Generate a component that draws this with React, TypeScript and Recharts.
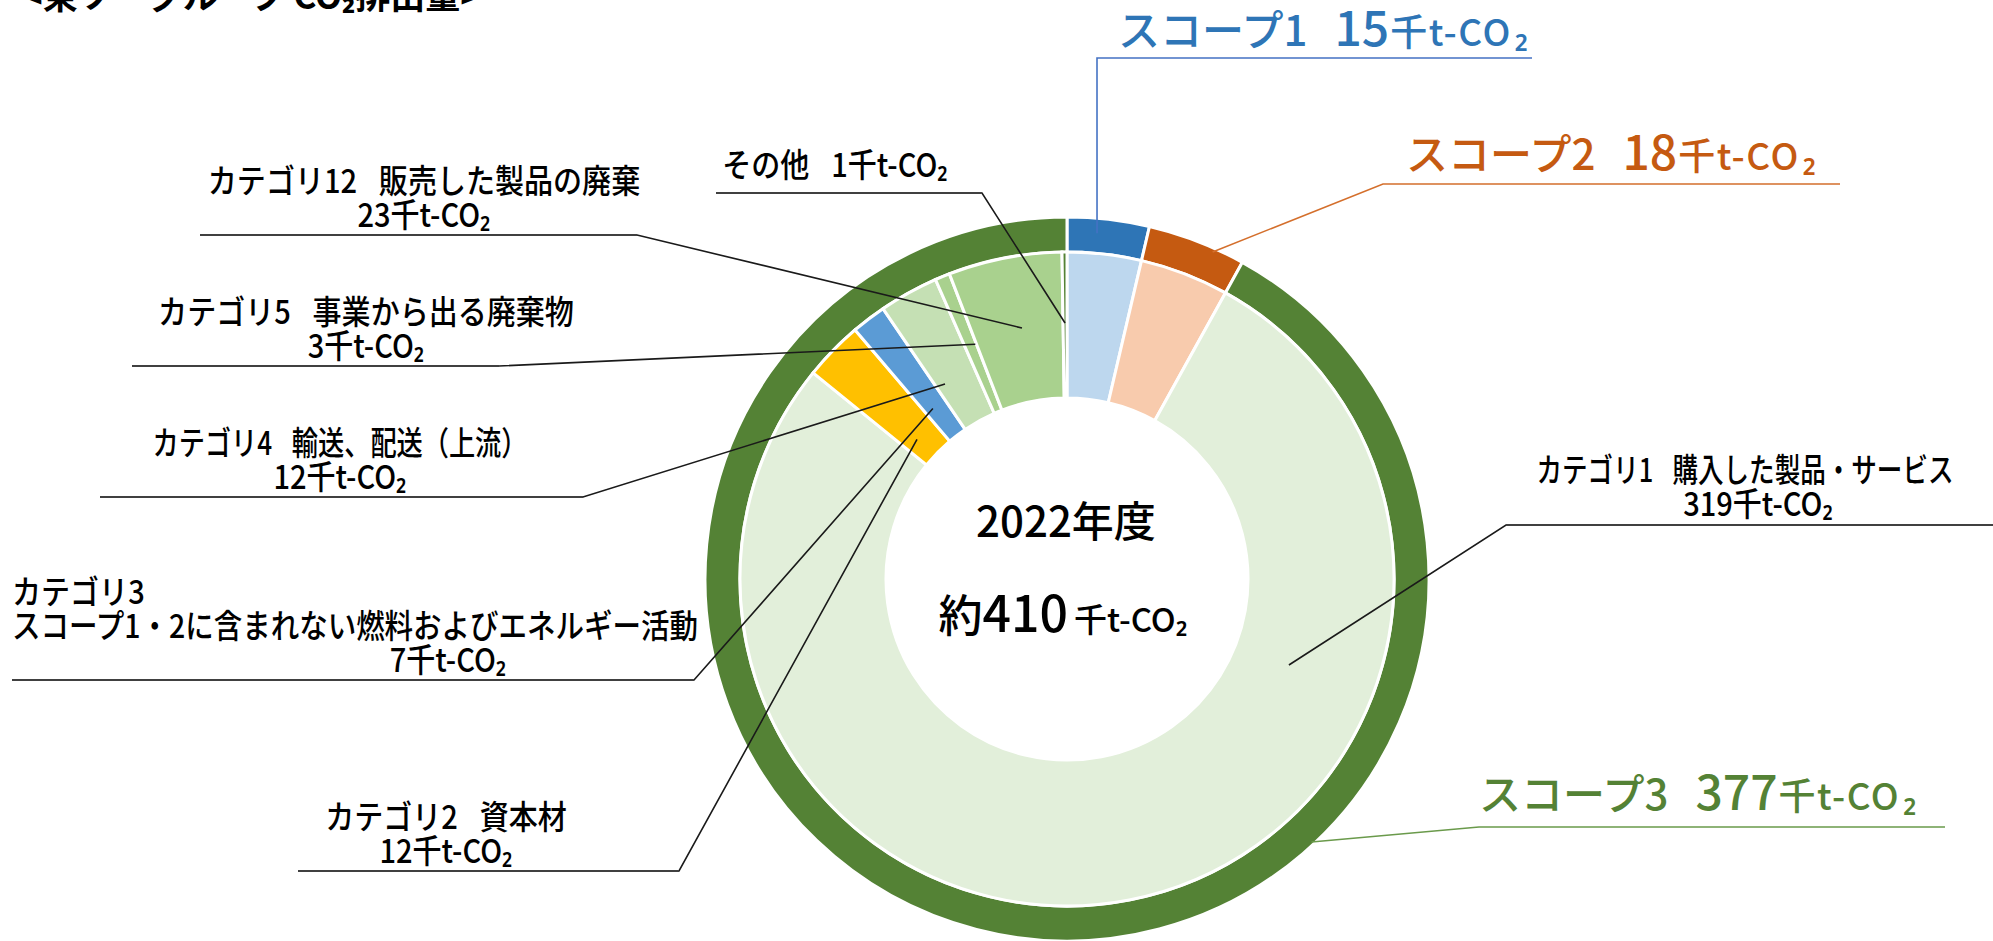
import React from 'react';
import { PieChart, Pie, Cell } from 'recharts';

const FONT = '"Noto Sans CJK JP", "Noto Sans", sans-serif';
const RADIAN = Math.PI / 180;
const SQUEEZE = 0.88;

// Outer ring: scope totals
const scopeNames = ['スコープ1', 'スコープ2', 'スコープ3'];
const scopeValues = [15, 18, 377];
const scopeColors = ['#2E75B6', '#C55A11', '#548235'];
const scopeLineColors = ['#4472C4', '#D46F2C', '#6A9A4B'];

// Inner ring: breakdown
const detailNames = ['スコープ1', 'スコープ2', 'カテゴリ1', 'カテゴリ2', 'カテゴリ3', 'カテゴリ4', 'カテゴリ5', 'カテゴリ12', 'その他'];
const detailTitles = [
  '',
  '',
  '購入した製品・サービス',
  '資本材',
  'スコープ1・2に含まれない燃料およびエネルギー活動',
  '輸送、配送（上流）',
  '事業から出る廃棄物',
  '販売した製品の廃棄',
  '',
];
const detailValues = [15, 18, 319, 12, 7, 12, 3, 23, 1];
const detailColors = ['#BDD7EE', '#F8CBAD', '#E2EFDA', '#FFC000', '#5B9BD5', '#C5E0B4', '#A9D18E', '#A9D18E', '#548235'];

const titleText = '<東ソーグループ CO₂排出量>';
const yearLabel = '2022年度';
const totalPrefix = '約';
const totalValue = 410;
const unitText = '千t-CO';
const unitSub = '₂';
const GAP = '\u2002\u2005';

const scopeData = scopeNames.map((name, i) => ({ name, value: scopeValues[i] }));
const detailData = detailNames.map((name, i) => ({ name, title: detailTitles[i], value: detailValues[i] }));

// layout of the annotations
const CX = 1067;
const CY = 579;

type TextLine = { x: number; y: number; anchor?: 'start' | 'middle' | 'end'; w?: number };
type DetailLayout = {
  lines: TextLine[];
  rule: [number, number, number];
  side: 'left' | 'right';
  t: number;
  r: number;
  split?: boolean;
} | null;

const detailLayout: DetailLayout[] = [
  null,
  null,
  {
    lines: [{ x: 1745, y: 482, w: 417 }, { x: 1758, y: 516 }],
    rule: [1506, 1993, 525],
    side: 'right',
    t: 0.2935,
    r: 238,
  },
  { lines: [{ x: 446, y: 829 }, { x: 446, y: 863 }], rule: [298, 679, 871], side: 'left', t: 0.37, r: 205 },
  {
    lines: [{ x: 12, y: 604, anchor: 'start' }, { x: 12, y: 638, anchor: 'start', w: 686 }, { x: 448, y: 672 }],
    rule: [12, 694, 680],
    side: 'left',
    t: 0.36,
    r: 217,
    split: true,
  },
  { lines: [{ x: 340, y: 455, w: 375 }, { x: 340, y: 489 }], rule: [100, 583, 497], side: 'left', t: 0.21, r: 230 },
  { lines: [{ x: 366, y: 324 }, { x: 366, y: 358 }], rule: [132, 499, 366], side: 'left', t: 0.9, r: 252 },
  { lines: [{ x: 424, y: 193 }, { x: 424, y: 227 }], rule: [200, 637, 235], side: 'left', t: 0.54, r: 255 },
  { lines: [{ x: 835, y: 177 }], rule: [716, 982, 193], side: 'left', t: 0.5, r: 256 },
];

const scopeLayout = [
  { x: 1118, y: 46, rule: [1097, 1532, 58], t: 0.377, r: 347 },
  { x: 1406, y: 170, rule: [1383, 1840, 184], t: 0.685, r: 358 },
  { x: 1479, y: 810, rule: [1479, 1945, 827], t: 0.3266, r: 359 },
];

const polar = (cx: number, cy: number, r: number, angle: number) => ({
  x: cx + r * Math.cos(-angle * RADIAN),
  y: cy + r * Math.sin(-angle * RADIAN),
});

const anchorPoint = (props: any, t: number, r: number) => {
  const { cx, cy, startAngle, endAngle, midAngle } = props;
  const angle =
    typeof startAngle === 'number' && typeof endAngle === 'number'
      ? startAngle + t * (endAngle - startAngle)
      : midAngle;
  return polar(cx, cy, r, angle);
};

const detailLines = (i: number, split?: boolean) => {
  const name = detailNames[i];
  const title = detailTitles[i];
  const amount = `${detailValues[i]}${unitText}${unitSub}`;
  if (!title) return [`${name}${GAP}${amount}`];
  if (split) return [name, title, amount];
  return [`${name}${GAP}${title}`, amount];
};

const renderDetailLabel = (props: any) => {
  const { index, cx, cy } = props;
  const layout = detailLayout[index];
  const centre =
    index === 0 ? (
      <g fontFamily={FONT} fill="#000">
        <text x={cx - 1} y={cy - 42} textAnchor="middle" fontSize={42} fontWeight={500}>
          {yearLabel}
        </text>
        <text x={cx - 4} y={cy + 53} textAnchor="middle" fontWeight={500}>
          <tspan fontSize={44}>{totalPrefix}</tspan>
          <tspan fontSize={50}>{totalValue}</tspan>
          <tspan fontSize={33} dx={6}>{unitText}</tspan>
          <tspan fontSize={33}>{unitSub}</tspan>
        </text>
      </g>
    ) : null;
  if (!layout) return centre;
  const p = anchorPoint(props, layout.t, layout.r);
  const [x1, x2, ry] = layout.rule;
  const points =
    layout.side === 'left'
      ? `${x1},${ry} ${x2},${ry} ${p.x},${p.y}`
      : `${p.x},${p.y} ${x1},${ry} ${x2},${ry}`;
  const lines = detailLines(index, layout.split);
  return (
    <g>
      <polyline points={points} fill="none" stroke="#1a1a1a" strokeWidth={1.6} />
      <line x1={x1} x2={x2} y1={ry} y2={ry} stroke="#404040" strokeWidth={2} />
      {lines.map((s, k) => {
        const l = layout.lines[k];
        // the original face is tall and narrow: squeeze a larger size horizontally
        return (
          <text
            key={k}
            transform={`translate(${l.x},${l.y}) scale(${SQUEEZE},1)`}
            textAnchor={l.anchor || 'middle'}
            fontFamily={FONT}
            fontSize={33}
            fontWeight={500}
            fill="#000"
            textLength={l.w ? l.w / SQUEEZE : undefined}
            lengthAdjust={l.w ? 'spacingAndGlyphs' : undefined}
          >
            {s}
          </text>
        );
      })}
    </g>
  );
};

const renderScopeLabel = (props: any) => {
  const { index } = props;
  const layout = scopeLayout[index];
  const color = scopeColors[index];
  const lineColor = scopeLineColors[index];
  const p = anchorPoint(props, layout.t, layout.r);
  const [x1, x2, ry] = layout.rule;
  return (
    <g>
      <polyline
        points={`${p.x},${p.y} ${x1},${ry} ${x2},${ry}`}
        fill="none"
        stroke={lineColor}
        strokeWidth={1.6}
      />
      <text x={layout.x} y={layout.y} fontFamily={FONT} fill={color} fontWeight={500}>
        <tspan fontSize={42}>{scopeNames[index]}</tspan>
        <tspan fontSize={36}>{GAP}</tspan>
        <tspan fontSize={48}>{scopeValues[index]}</tspan>
        <tspan fontSize={37} dx={1} letterSpacing={1.5}>{unitText}</tspan>
        <tspan fontSize={37} dx={3}>{unitSub}</tspan>
      </text>
    </g>
  );
};

const App: React.FC = () => {
  return (
    <div style={{ position: 'absolute', left: 0, top: 0, width: 1993, height: 941, background: '#fff' }}>
      <svg width={1993} height={60} style={{ position: 'absolute', left: 0, top: 0 }}>
        <text x={22} y={9} fontFamily={FONT} fontSize={35} fontWeight={700} fill="#000">
          {titleText}
        </text>
      </svg>
      <div style={{ position: 'absolute', left: 0, top: 0 }}>
        <PieChart width={1993} height={941} margin={{ top: 0, right: 0, bottom: 0, left: 0 }}>
          <Pie
            data={scopeData}
            dataKey="value"
            nameKey="name"
            cx={CX}
            cy={CY}
            startAngle={90}
            endAngle={-270}
            innerRadius={327}
            outerRadius={362}
            stroke="#fff"
            strokeWidth={3}
            label={renderScopeLabel}
            labelLine={false}
            isAnimationActive={false}
          >
            {scopeData.map((d, i) => (
              <Cell key={d.name} fill={scopeColors[i]} />
            ))}
          </Pie>
          <Pie
            data={detailData}
            dataKey="value"
            nameKey="name"
            cx={CX}
            cy={CY}
            startAngle={90}
            endAngle={-270}
            innerRadius={181}
            outerRadius={327}
            stroke="#fff"
            strokeWidth={3}
            label={renderDetailLabel}
            labelLine={false}
            isAnimationActive={false}
          >
            {detailData.map((d, i) => (
              <Cell key={d.name} fill={detailColors[i]} />
            ))}
          </Pie>
        </PieChart>
      </div>
    </div>
  );
};

export default App;
